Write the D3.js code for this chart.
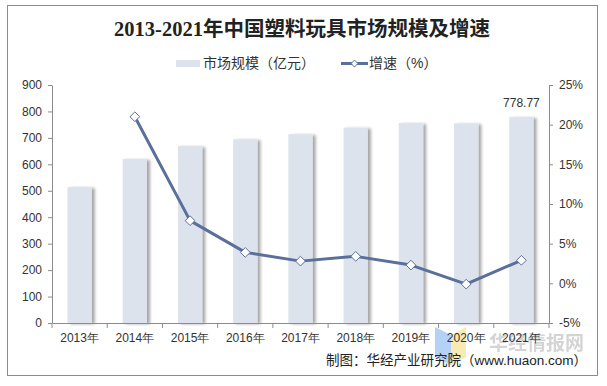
<!DOCTYPE html>
<html>
<head>
<meta charset="utf-8">
<script src="https://cdn.jsdelivr.net/npm/d3@7"></script>
<style>
  body { margin: 0; background: #fff; }
  svg { display: block; font-family: "Liberation Sans", "Noto Sans CJK SC", sans-serif; }
</style>
</head>
<body>
<svg id="chart" width="607" height="386"></svg>
<script>
const years = ['2013年', '2014年', '2015年', '2016年', '2017年', '2018年', '2019年', '2020年', '2021年'];
const scale = [514, 620, 669, 695, 714, 739, 756, 755, 778.77];
const growth = [null, 21.0, 7.9, 3.9, 2.8, 3.4, 2.3, -0.1, 2.9];
const leftTicks = [0, 100, 200, 300, 400, 500, 600, 700, 800, 900];
const rightTicks = [-5, 0, 5, 10, 15, 20, 25];

const svg = d3.select('#chart');
const margin = { top: 85, right: 58, bottom: 63, left: 52 };
const width = 607, height = 386;

// frame
svg.append('rect')
  .attr('x', 7.5).attr('y', 5.5)
  .attr('width', 590).attr('height', 370)
  .attr('fill', '#fff').attr('stroke', '#8c8c8c');

const defs = svg.append('defs');
const f = defs.append('filter').attr('id', 'shadow')
  .attr('x', '-20%').attr('y', '-5%').attr('width', '160%').attr('height', '110%');
f.append('feDropShadow').attr('dx', 3).attr('dy', 1).attr('stdDeviation', 1.6)
  .attr('flood-color', '#000').attr('flood-opacity', 0.35);

const x = d3.scaleBand().domain(years)
  .range([margin.left, width - margin.right]).paddingInner(0.56).paddingOuter(0.28);
const xOuter = d3.scaleBand().domain(years).range([margin.left, width - margin.right]);
const y1 = d3.scaleLinear().domain([0, 900]).range([height - margin.bottom, margin.top]);
const y2 = d3.scaleLinear().domain([-5, 25]).range([height - margin.bottom, margin.top]);

// title
svg.append('text')
  .attr('x', 302).attr('y', 36)
  .attr('text-anchor', 'middle')
  .style('font-family', '"Liberation Serif", "Noto Sans CJK SC", serif')
  .style('font-weight', 'bold')
  .style('font-size', '20.5px')
  .attr('fill', '#222')
  .text('2013-2021年中国塑料玩具市场规模及增速');

// legend
const lg = svg.append('g').style('font-size', '14px').attr('fill', '#333');
lg.append('rect').attr('x', 176).attr('y', 60).attr('width', 24).attr('height', 7).attr('fill', '#dde3ed');
lg.append('text').attr('x', 203).attr('y', 68).text('市场规模（亿元）');
lg.append('line').attr('x1', 341).attr('x2', 368).attr('y1', 63.5).attr('y2', 63.5)
  .attr('stroke', '#5a6f9a').attr('stroke-width', 3);
lg.append('path').attr('d', d3.symbol(d3.symbolDiamond2, 30)())
  .attr('transform', 'translate(354.5,63.5)')
  .attr('fill', '#fff').attr('stroke', '#5a6f9a').attr('stroke-width', 1);
lg.append('text').attr('x', 369).attr('y', 68).text('增速（%）');

// bars
svg.append('g').selectAll('rect')
  .data(scale)
  .join('rect')
  .attr('x', (d, i) => x(years[i]))
  .attr('y', d => y1(d))
  .attr('width', x.bandwidth())
  .attr('height', d => y1(0) - y1(d))
  .attr('fill', '#dde3ed')
  .attr('filter', 'url(#shadow)');

// value label on last bar
svg.append('text')
  .attr('x', x(years[8]) + x.bandwidth() / 2)
  .attr('y', y1(scale[8]) - 10)
  .attr('text-anchor', 'middle')
  .style('font-size', '12px')
  .attr('fill', '#333')
  .text(scale[8]);

// watermark logo + text (behind labels)
svg.append('path').attr('d', 'M435,327 L451,335 L451,365 L435,357 Z').attr('fill', '#a9c9f5').attr('opacity', 0.85);
svg.append('path').attr('d', 'M451,335 L466,327 L466,357 L451,365 Z').attr('fill', '#f7e6a6').attr('opacity', 0.85);
svg.append('text')
  .attr('x', 584).attr('y', 350)
  .attr('text-anchor', 'end')
  .style('font-family', '"Noto Sans CJK SC", sans-serif')
  .style('font-size', '19px').style('font-weight', 'bold')
  .attr('fill', '#d0d0d0').attr('opacity', 0.9)
  .text('华经情报网');

// axes
const axisStyle = g => {
  g.select('.domain').attr('stroke', '#8c8c8c');
  g.selectAll('.tick line').attr('stroke', '#8c8c8c');
  g.selectAll('.tick text').attr('fill', '#333').style('font-size', '12px');
};

svg.append('g')
  .attr('transform', `translate(${margin.left},0)`)
  .call(d3.axisLeft(y1).tickValues(leftTicks).tickSize(4).tickSizeOuter(0).tickPadding(6))
  .call(axisStyle);

svg.append('g')
  .attr('transform', `translate(${width - margin.right},0)`)
  .call(d3.axisRight(y2).tickValues(rightTicks).tickSize(4).tickSizeOuter(0).tickPadding(6)
    .tickFormat(d => d + '%'))
  .call(axisStyle);

const xa = svg.append('g')
  .attr('transform', `translate(0,${y1(0)})`)
  .call(d3.axisBottom(xOuter).tickSize(0).tickPadding(10))
  .call(axisStyle);
xa.selectAll('.sep')
  .data(years.concat(['end']))
  .join('line')
  .attr('class', 'sep')
  .attr('x1', (d, i) => margin.left + i * xOuter.step())
  .attr('x2', (d, i) => margin.left + i * xOuter.step())
  .attr('y1', 0).attr('y2', 5)
  .attr('stroke', '#8c8c8c');

// growth line
const pts = growth.map((g, i) => ({ year: years[i], g })).filter(d => d.g !== null);
svg.append('path')
  .datum(pts)
  .attr('fill', 'none')
  .attr('stroke', '#5a6f9a')
  .attr('stroke-width', 3)
  .attr('stroke-linejoin', 'round')
  .attr('d', d3.line()
    .x(d => xOuter(d.year) + xOuter.bandwidth() / 2)
    .y(d => y2(d.g)));

svg.append('g').selectAll('path')
  .data(pts)
  .join('path')
  .attr('d', d3.symbol(d3.symbolDiamond2, 60)())
  .attr('transform', d => `translate(${xOuter(d.year) + xOuter.bandwidth() / 2},${y2(d.g)})`)
  .attr('fill', '#fff')
  .attr('stroke', '#5a6f9a')
  .attr('stroke-width', 1);

// source
svg.append('text')
  .attr('x', 587).attr('y', 365)
  .attr('text-anchor', 'end')
  .style('font-family', '"Liberation Sans", "Noto Sans CJK SC", sans-serif')
  .style('font-size', '13.5px')
  .attr('fill', '#222')
  .text('制图：华经产业研究院（www.huaon.com）');
</script>
</body>
</html>
